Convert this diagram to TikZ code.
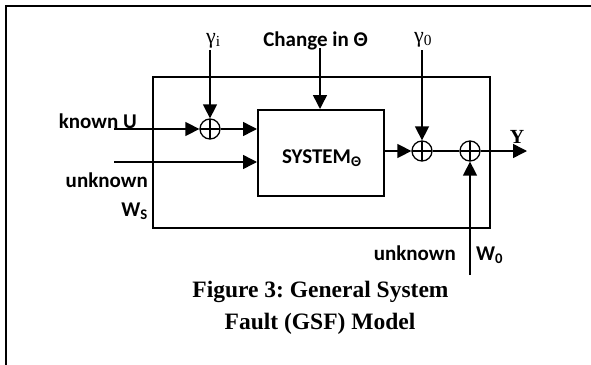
\documentclass[tikz,border=0pt]{standalone}
\usepackage{fontspec}
\setmainfont{Carlito}
\newfontfamily\seriffont{Liberation Serif}
\usetikzlibrary{arrows.meta}
\frenchspacing
\begin{document}
\begin{tikzpicture}[x=1pt,y=-1pt,
  lbl/.style={font=\bfseries\fontsize{21}{25}\selectfont, inner sep=0pt},
  gr/.style={font=\seriffont\fontsize{22}{26}\selectfont, inner sep=0pt},
  capt/.style={font=\seriffont\bfseries\fontsize{23.5}{28}\selectfont, inner sep=0pt},
  sumnode/.style={circle, draw, line width=1.3pt, minimum size=20pt, inner sep=0pt,
    path picture={\draw[line width=1.3pt] (path picture bounding box.north) -- (path picture bounding box.south)
      (path picture bounding box.west) -- (path picture bounding box.east);}},
  blk/.style={draw, line width=1.5pt, inner sep=0pt, anchor=north west},
  arr/.style={line width=1.5pt, -{Triangle[length=14pt,width=14pt]}},
  ln/.style={line width=1.5pt}
]
\path[use as bounding box] (0,0) rectangle (591,364);
\draw[line width=2pt] (6,365) -- (6,6) -- (592,6);

\node[blk, minimum width=337pt, minimum height=151pt] (outer) at (152,76) {};
\node[blk, minimum width=126pt, minimum height=86pt] (sys) at (257,109) {};
\node[lbl, anchor=base west] (systxt) at (282,163) {SYSTEM\textsubscript{Θ}};

\node[sumnode] (s1) at (210,129) {};
\node[sumnode] (s2) at (422,151) {};
\node[sumnode] (s3) at (470,151) {};

\coordinate (ku) at (114,129);
\coordinate (uk) at (114,162);
\coordinate (gitop) at (210,50);
\coordinate (chtop) at (320,48);
\coordinate (g0top) at (422,50);
\coordinate (yend) at (527,151);
\coordinate (w0bot) at (470,275);

\draw[arr] (ku) -- (s1);
\draw[arr] (s1.east) -- (s1.east -| sys.west);
\draw[arr] (uk) -- (uk -| sys.west);
\draw[arr] (gitop) -- (s1);
\draw[arr] (chtop) -- (chtop |- sys.north);
\draw[arr] (g0top) -- (s2);
\draw[arr] (s2.west -| sys.east) -- (s2);
\draw[ln] (s2) -- (s3);
\draw[arr] (s3) -- (yend);
\draw[arr] (w0bot) -- (s3);

\node[lbl, anchor=base east] (lku) at (137,128) {known U};
\node[lbl, anchor=base east] (luk) at (148,187) {unknown};
\node[lbl, anchor=base east] (lws) at (148,216) {W\textsubscript{S}};
\node[lbl, anchor=base] (lch) at (315.5,46) {Change in Θ};
\node[lbl, anchor=base east] (luk2) at (456,260) {unknown};
\node[lbl, anchor=base west] (lw0) at (476,260) {W\textsubscript{0}};
\node[gr, anchor=base west] (lgi) at (206,43) {γ\textsubscript{i}};
\node[gr, anchor=base west] (lg0) at (414,42) {γ\textsubscript{0}};
\node[gr, font=\seriffont\bfseries\fontsize{20}{24}\selectfont, anchor=base] (ly) at (517,143) {Y};

\node[capt, anchor=base] (cap1) at (320.5,297) {Figure 3: General System};
\node[capt, anchor=base] (cap2) at (320,329) {Fault (GSF) Model};
\end{tikzpicture}
\end{document}
